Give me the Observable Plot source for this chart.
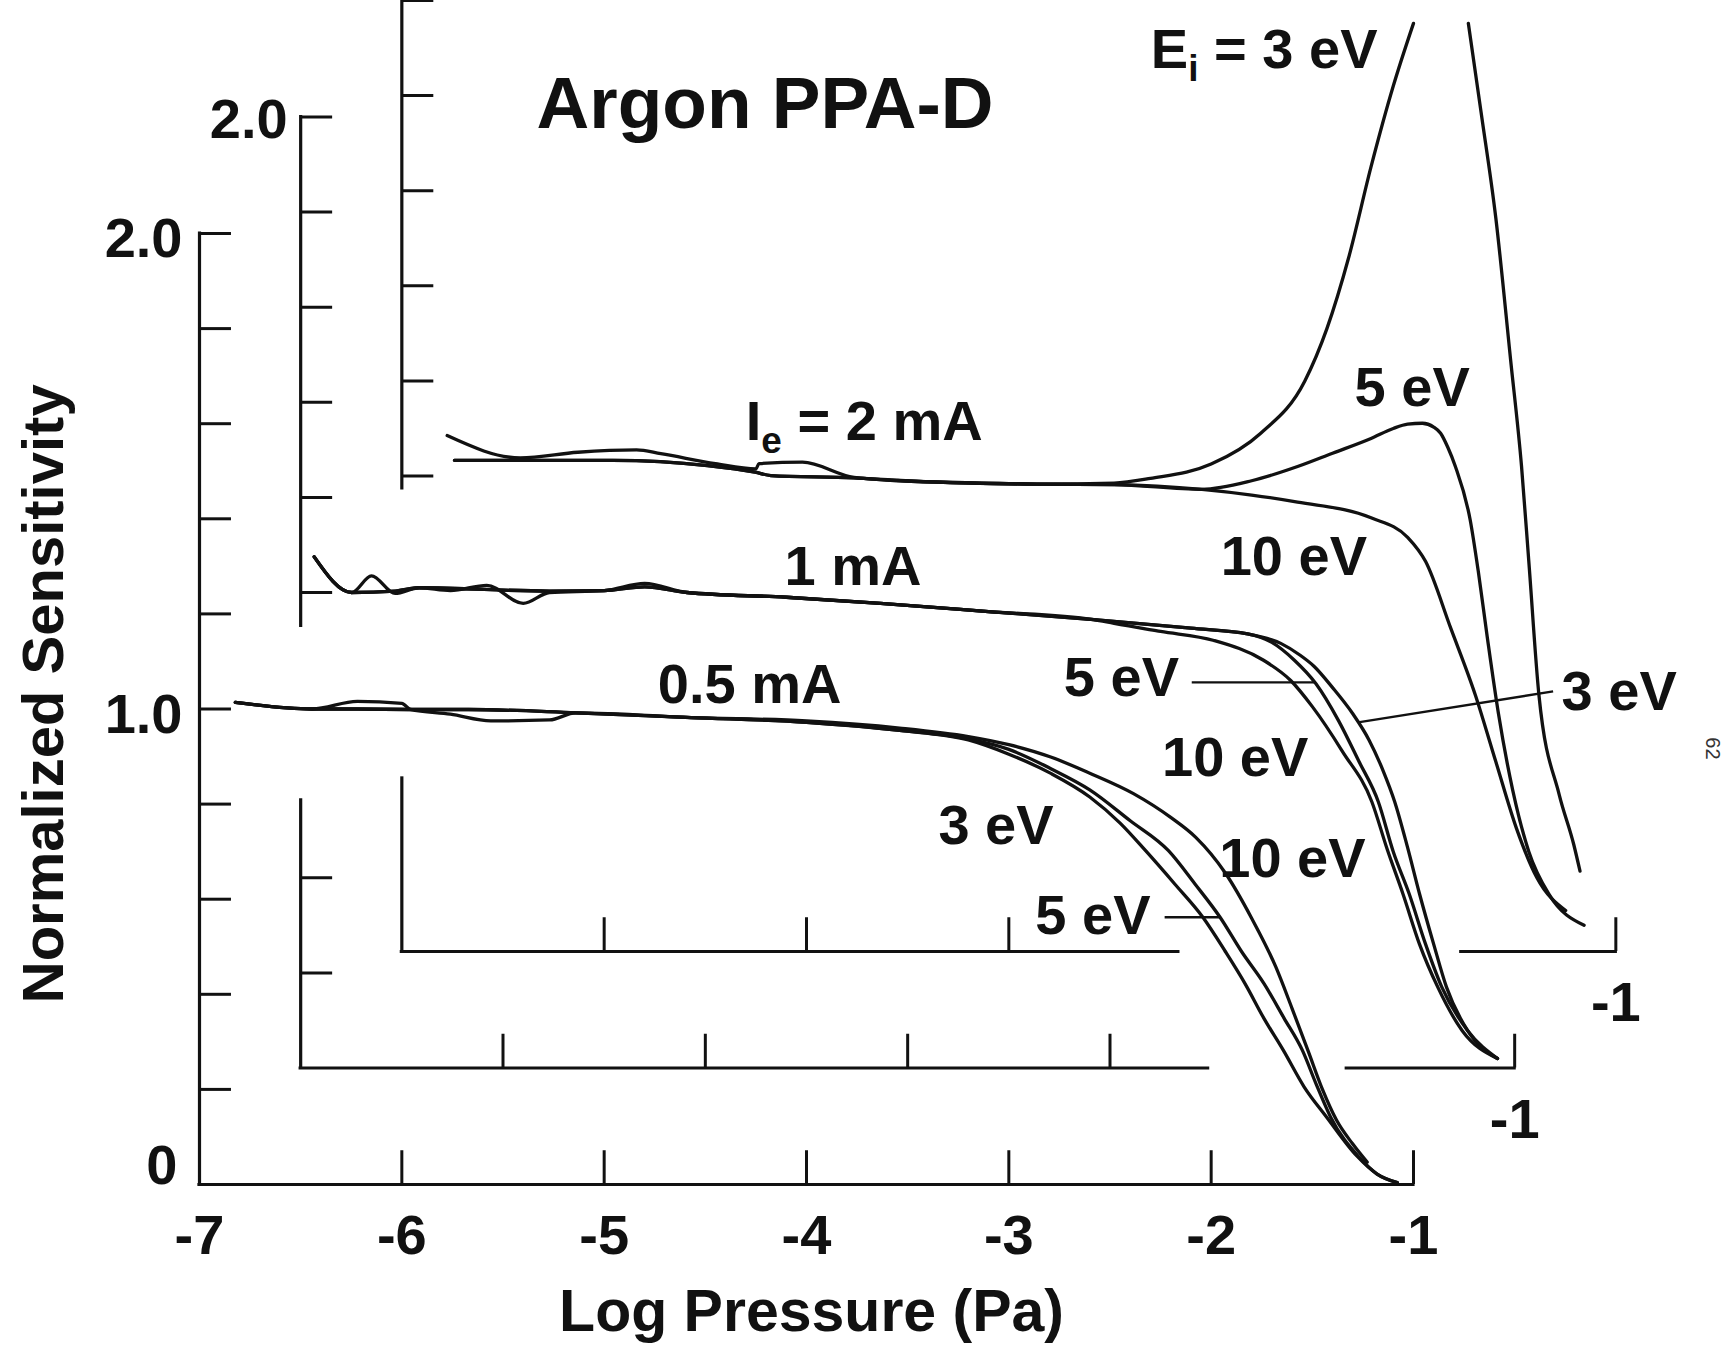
<!DOCTYPE html>
<html>
<head>
<meta charset="utf-8">
<script src="https://cdn.jsdelivr.net/npm/d3@7"></script>
<script src="https://cdn.jsdelivr.net/npm/@observablehq/plot@0.6"></script>
<style>
  html, body { margin: 0; padding: 0; background: #fff; }
  svg { display: block; }
</style>
</head>
<body>
<div id="chart"></div>
<script>
// Argon PPA-D: normalized sensitivity vs log pressure, three electron
// currents drawn as a stacked (pseudo-3D) set of panels, each with three
// ion energies. Points are [log10 pressure (Pa), normalized sensitivity].

// Ie = 0.5 mA (front panel)
const ie05_3eV = [[-6.823,1.014],[-6.443,1.0],[-6.22,1.016],[-6.0,1.012],[-5.958,0.999],[-5.76,0.989],[-5.56,0.975],[-5.27,0.977],[-5.14,0.992],[-4.57,0.982],[-4.0,0.972],[-3.54,0.955],[-3.2,0.935],[-3.0,0.905],[-2.79,0.864],[-2.6,0.815],[-2.45,0.76],[-2.324,0.702],[-2.18,0.632],[-2.041,0.562],[-1.93,0.49],[-1.832,0.422],[-1.74,0.35],[-1.643,0.282],[-1.54,0.205],[-1.43,0.142],[-1.28,0.06],[-1.18,0.022],[-1.08,0.004]];
const ie05_5eV = [[-6.823,1.014],[-6.443,1.0],[-6.22,1.0],[-5.958,0.999],[-5.67,0.999],[-5.14,0.992],[-4.57,0.982],[-4.0,0.972],[-3.54,0.955],[-3.2,0.937],[-3.0,0.915],[-2.79,0.874],[-2.6,0.83],[-2.4,0.765],[-2.211,0.702],[-2.08,0.632],[-1.956,0.562],[-1.85,0.49],[-1.738,0.422],[-1.64,0.35],[-1.549,0.282],[-1.48,0.21],[-1.41,0.142],[-1.27,0.058],[-1.18,0.022],[-1.08,0.004]];
const ie05_10eV = [[-6.823,1.014],[-6.443,1.0],[-6.22,1.0],[-5.958,0.999],[-5.67,0.999],[-5.14,0.992],[-4.57,0.982],[-4.0,0.975],[-3.54,0.96],[-3.2,0.942],[-3.0,0.925],[-2.793,0.899],[-2.6,0.865],[-2.384,0.822],[-2.2,0.772],[-2.076,0.73],[-1.93,0.655],[-1.80,0.56],[-1.68,0.457],[-1.60,0.37],[-1.52,0.28],[-1.45,0.20],[-1.38,0.135],[-1.30,0.085],[-1.229,0.047]];

// Ie = 1 mA (middle panel)
const ie1_3eV = [[-6.933,1.075],[-6.748,1.0],[-6.65,1.035],[-6.533,0.998],[-6.415,1.01],[-6.26,1.004],[-6.08,1.015],[-5.90,0.977],[-5.77,1.0],[-5.5,1.004],[-5.30,1.019],[-5.09,1.0],[-4.6,0.99],[-4.134,0.977],[-3.6,0.96],[-3.08,0.943],[-2.6,0.925],[-2.32,0.913],[-2.156,0.893],[-2.06,0.868],[-1.992,0.845],[-1.90,0.80],[-1.80,0.745],[-1.72,0.69],[-1.65,0.625],[-1.593,0.56],[-1.53,0.465],[-1.47,0.366],[-1.40,0.26],[-1.337,0.17],[-1.233,0.079],[-1.085,0.02]];
const ie1_5eV = [[-6.933,1.075],[-6.748,1.0],[-6.533,1.003],[-6.415,1.01],[-5.77,1.003],[-5.5,1.004],[-5.30,1.012],[-5.09,1.0],[-4.6,0.99],[-4.134,0.977],[-3.6,0.96],[-3.08,0.943],[-2.6,0.925],[-2.32,0.913],[-2.2,0.895],[-2.09,0.858],[-1.982,0.808],[-1.87,0.73],[-1.77,0.645],[-1.674,0.56],[-1.60,0.455],[-1.521,0.366],[-1.44,0.26],[-1.36,0.17],[-1.233,0.079],[-1.085,0.02]];
const ie1_10eV = [[-6.933,1.075],[-6.748,1.0],[-6.533,1.003],[-6.415,1.01],[-5.77,1.003],[-5.5,1.004],[-5.30,1.012],[-5.09,1.0],[-4.6,0.99],[-4.134,0.977],[-3.6,0.96],[-3.08,0.943],[-2.98,0.935],[-2.75,0.918],[-2.486,0.899],[-2.239,0.857],[-2.107,0.815],[-2.0,0.76],[-1.85,0.665],[-1.706,0.56],[-1.63,0.46],[-1.552,0.366],[-1.47,0.26],[-1.38,0.17],[-1.26,0.079],[-1.085,0.02]];

// Ie = 2 mA (back panel); the 3 eV peak runs off the top of the sheet (null = break)
const ie2_3eV = [[-6.776,1.085],[-6.414,1.038],[-6.13,1.05],[-5.84,1.055],[-5.72,1.047],[-5.45,1.026],[-5.25,1.015],[-5.235,1.026],[-5.02,1.029],[-4.765,0.997],[-4.535,0.991],[-3.844,0.983],[-3.48,0.985],[-3.3,0.995],[-3.0,1.025],[-2.755,1.09],[-2.537,1.2],[-2.428,1.31],[-2.32,1.46],[-2.21,1.65],[-2.10,1.82],[-2.0,1.952],null,[-1.729,1.952],[-1.666,1.765],[-1.593,1.542],[-1.52,1.244],[-1.466,1.02],[-1.43,0.82],[-1.38,0.539],[-1.28,0.33],[-1.208,0.225],[-1.177,0.169]];
const ie2_5eV = [[-6.74,1.033],[-6.414,1.033],[-5.958,1.033],[-5.489,1.022],[-5.254,1.008],[-5.176,1.001],[-4.765,0.996],[-4.535,0.99],[-3.844,0.983],[-3.48,0.982],[-3.046,0.972],[-2.8,0.99],[-2.573,1.02],[-2.4,1.048],[-2.21,1.079],[-2.1,1.1],[-2.029,1.109],[-1.956,1.111],[-1.9,1.103],[-1.866,1.09],[-1.83,1.06],[-1.793,1.02],[-1.72,0.908],[-1.68,0.80],[-1.635,0.66],[-1.58,0.50],[-1.51,0.34],[-1.43,0.21],[-1.33,0.12],[-1.157,0.055]];
const ie2_10eV = [[-6.74,1.033],[-6.414,1.033],[-5.958,1.033],[-5.489,1.022],[-5.254,1.008],[-5.176,1.001],[-4.765,0.996],[-4.535,0.99],[-3.844,0.983],[-3.48,0.982],[-3.046,0.972],[-2.8,0.96],[-2.573,0.945],[-2.21,0.912],[-2.029,0.871],[-1.94,0.82],[-1.816,0.68],[-1.694,0.539],[-1.593,0.399],[-1.492,0.26],[-1.39,0.155],[-1.248,0.086]];

// Axis ticks and labels
const logTicks = [-7, -6, -5, -4, -3, -2, -1];
const logTickLabels = ["-7", "-6", "-5", "-4", "-3", "-2", "-1"];
const sensTicks = [0.2, 0.4, 0.6, 0.8, 1.0, 1.2, 1.4, 1.6, 1.8, 2.0];

// Each stacked panel is shifted right/up by a fixed depth offset
const DX = 0.5, DY = 0.245;
const ink = "#111";
const FONT = "'Liberation Sans', Arial, Helvetica, sans-serif";

const stacks = [
  {panel: 0, current: "0.5 mA", curves: {"3 eV": ie05_3eV, "5 eV": ie05_5eV, "10 eV": ie05_10eV}},
  {panel: 1, current: "1 mA",   curves: {"3 eV": ie1_3eV,  "5 eV": ie1_5eV,  "10 eV": ie1_10eV}},
  {panel: 2, current: "2 mA",   curves: {"3 eV": ie2_3eV,  "5 eV": ie2_5eV,  "10 eV": ie2_10eV}}
];

const curveRows = [];
for (const s of stacks) {
  for (const [ei, pts] of Object.entries(s.curves)) {
    for (const p of pts) {
      curveRows.push({
        key: s.current + " / " + ei,
        x: p ? p[0] + s.panel * DX : NaN,
        y: p ? p[1] + s.panel * DY : NaN
      });
    }
  }
}

// Axis extents per panel; the rear axes are broken where nearer curves pass in front
const yAxisSpans = [
  {panel: 0, from: 0, to: 2},
  {panel: 1, from: 0, to: 0.563}, {panel: 1, from: 0.93, to: 2},
  {panel: 2, from: 0, to: 0.364}, {panel: 2, from: 0.974, to: 2}
];
const xAxisSpans = [
  {panel: 0, from: -7, to: -1},
  {panel: 1, from: -7, to: -2.515}, {panel: 1, from: -1.83, to: -1},
  {panel: 2, from: -7, to: -3.162}, {panel: 2, from: -1.764, to: -1}
];
const yTickSets = [
  {panel: 0, ticks: sensTicks},
  {panel: 1, ticks: sensTicks.filter(v => v <= 0.45 || v >= 0.99)},
  {panel: 2, ticks: sensTicks.filter(v => v >= 0.99)}
];
const xTickSets = [
  {panel: 0, ticks: [-6, -5, -4, -3, -2, -1]},
  {panel: 1, ticks: [-6, -5, -4, -3, -1]},
  {panel: 2, ticks: [-6, -5, -4, -1]}
];

const yTickRows = yTickSets.flatMap(s => s.ticks.map(v => ({panel: s.panel, v})));
const xTickRows = xTickSets.flatMap(s => s.ticks.map(v => ({panel: s.panel, v})));

const TICK_X = 0.158;   // horizontal tick length (log units)
const TICK_Y = 0.071;   // vertical tick length (sensitivity units)

// Curve annotations (front-panel coordinates)
const curveLabels = [
  {text: "Ie = 2 mA", x: -4.30, y: 1.603},
  {text: "1 mA", x: -4.109, y: 1.298},
  {text: "0.5 mA", x: -4.735, y: 1.05},
  {text: "Ei = 3 eV", x: -2.298, y: 2.386},
  {text: "5 eV", x: -1.291, y: 1.675},
  {text: "10 eV", x: -1.953, y: 1.319},
  {text: "5 eV", x: -2.728, y: 1.066},
  {text: "3 eV", x: -0.268, y: 1.036},
  {text: "10 eV", x: -2.243, y: 0.897},
  {text: "3 eV", x: -3.348, y: 0.754},
  {text: "10 eV", x: -1.96, y: 0.684},
  {text: "5 eV", x: -2.869, y: 0.564}
];
const leaders = [
  {x1: -2.096, y1: 1.056, x2: -1.486, y2: 1.056},
  {x1: -0.31, y1: 1.037, x2: -1.274, y2: 0.972},
  {x1: -2.23, y1: 0.562, x2: -1.956, y2: 0.562}
];

const textBase = {fontWeight: "bold", fill: ink, stroke: null};

const chart = Plot.plot({
  width: 1726,
  height: 1351,
  marginTop: 0, marginRight: 0, marginBottom: 0, marginLeft: 0,
  x: {domain: [-7, -1], range: [199, 1413], axis: null},
  y: {domain: [0, 2], range: [1184, 233], axis: null},
  style: {background: "#fff", fontFamily: FONT, color: ink},
  marks: [
    // axes of the three stacked panels
    Plot.ruleX(yAxisSpans, {
      x: d => -7 + d.panel * DX,
      y1: d => d.from + d.panel * DY,
      y2: d => d.to + d.panel * DY,
      stroke: ink, strokeWidth: 3.2, strokeLinecap: "square"
    }),
    Plot.ruleY(xAxisSpans, {
      y: d => d.panel * DY,
      x1: d => d.from + d.panel * DX,
      x2: d => d.to + d.panel * DX,
      stroke: ink, strokeWidth: 3.2, strokeLinecap: "square"
    }),
    Plot.ruleY(yTickRows, {
      y: d => d.v + d.panel * DY,
      x1: d => -7 + d.panel * DX,
      x2: d => -7 + d.panel * DX + TICK_X,
      stroke: ink, strokeWidth: 3
    }),
    Plot.ruleX(xTickRows, {
      x: d => d.v + d.panel * DX,
      y1: d => d.panel * DY,
      y2: d => d.panel * DY + TICK_Y,
      stroke: ink, strokeWidth: 3
    }),

    // sensitivity curves
    Plot.line(curveRows, {
      x: "x", y: "y", z: "key",
      stroke: ink, strokeWidth: 3.3, curve: "monotone-x",
      strokeLinejoin: "round", strokeLinecap: "round"
    }),

    // leader lines from labels to curves
    Plot.link(leaders, {x1: "x1", y1: "y1", x2: "x2", y2: "y2", stroke: ink, strokeWidth: 2.4}),

    // curve labels
    Plot.text(curveLabels, {x: "x", y: "y", text: "text", textAnchor: "start", lineAnchor: "middle", fontSize: 56, ...textBase}),

    // title
    Plot.text(["Argon PPA-D"], {x: -5.334, y: 2.271, text: d => d, textAnchor: "start", lineAnchor: "middle", fontSize: 73, ...textBase}),

    // x tick labels
    Plot.text(logTicks, {x: d => d, y: 0, text: (d, i) => logTickLabels[i], textAnchor: "middle", lineAnchor: "middle", dy: 52, fontSize: 56, ...textBase}),
    Plot.text([1, 2], {x: k => -1 + k * DX, y: k => k * DY, text: () => logTickLabels[6], textAnchor: "middle", lineAnchor: "middle", dy: 52, fontSize: 56, ...textBase}),

    // y tick labels
    Plot.text([2.0, 1.0], {x: -7, y: d => d, text: d => d.toFixed(1), textAnchor: "end", lineAnchor: "middle", dx: -17, dy: 6, fontSize: 56, ...textBase}),
    Plot.text([0], {x: -7, y: 0, text: () => "0", textAnchor: "end", lineAnchor: "middle", dx: -22, dy: -18, fontSize: 56, ...textBase}),
    Plot.text([1], {x: k => -7 + k * DX, y: k => 2 + k * DY, text: () => "2.0", textAnchor: "end", lineAnchor: "middle", dx: -13, dy: 3, fontSize: 56, ...textBase}),

    // axis titles
    Plot.text(["Normalized Sensitivity"], {x: -7.766, y: 1.032, text: d => d, rotate: -90, textAnchor: "middle", lineAnchor: "middle", fontSize: 58, ...textBase}),
    Plot.text(["Log Pressure (Pa)"], {x: -3.975, y: -0.269, text: d => d, textAnchor: "middle", lineAnchor: "middle", fontSize: 59, ...textBase}),

    // page number in the margin
    Plot.text(["62"], {x: 0.479, y: 0.917, text: d => d, rotate: 90, textAnchor: "middle", lineAnchor: "middle", fontSize: 20, fill: "#333"})
  ]
});

// subscripts for Ie and Ei
d3.select(chart).selectAll("text").each(function () {
  const m = /^([EI])([ie])( = .*)$/.exec(this.textContent);
  if (!m) return;
  const t = d3.select(this).text("");
  t.append("tspan").text(m[1]);
  t.append("tspan").attr("font-size", "0.66em").attr("dy", 13).text(m[2]);
  t.append("tspan").attr("dy", -13).text(m[3]);
});

document.getElementById("chart").appendChild(chart);
</script>
</body>
</html>
